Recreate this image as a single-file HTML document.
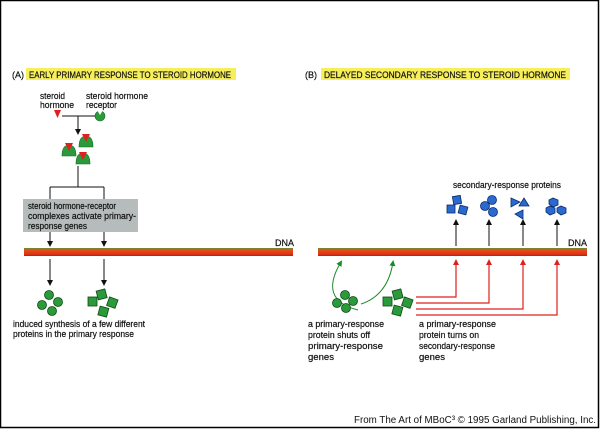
<!DOCTYPE html>
<html><head><meta charset="utf-8"><style>
html,body{margin:0;padding:0;background:#fff}
svg{display:block}
text{font-family:"Liberation Sans",sans-serif;font-size:9px;fill:#111;stroke:#111;stroke-width:0.2}
</style></head><body>
<svg width="600" height="429" viewBox="0 0 600 429">
<defs>
<marker id="ab" markerUnits="userSpaceOnUse" markerWidth="6" markerHeight="6" refX="4" refY="3" orient="auto"><path d="M0,0L6,3L0,6z" fill="#111"/></marker>
<marker id="ar" markerUnits="userSpaceOnUse" markerWidth="6" markerHeight="6" refX="4" refY="3" orient="auto"><path d="M0,0L6,3L0,6z" fill="#e0201a"/></marker>
<marker id="ag" markerUnits="userSpaceOnUse" markerWidth="6" markerHeight="6" refX="4" refY="3" orient="auto"><path d="M0,0L6,3L0,6z" fill="#1a8a2a"/></marker>
<linearGradient id="dna" x1="0" y1="0" x2="0" y2="1"><stop offset="0" stop-color="#4a9a3a"/><stop offset="0.2" stop-color="#e8501a"/><stop offset="0.8" stop-color="#e03010"/><stop offset="1" stop-color="#7a2a6a"/></linearGradient>
</defs>
<rect x="0.5" y="0.5" width="598" height="427" fill="#fff" stroke="#000" stroke-width="1.5"/>

<g>
<text x="12" y="78">(A)</text>
<rect x="26" y="68" width="210" height="12" fill="#f6ee5a"/>
<text x="29" y="78" textLength="202" lengthAdjust="spacingAndGlyphs">EARLY PRIMARY RESPONSE TO STEROID HORMONE</text>
<text x="40" y="99" textLength="25" lengthAdjust="spacingAndGlyphs">steroid</text>
<text x="40" y="108" textLength="34" lengthAdjust="spacingAndGlyphs">hormone</text>
<text x="86" y="99" textLength="62" lengthAdjust="spacingAndGlyphs">steroid hormone</text>
<text x="86" y="108" textLength="31" lengthAdjust="spacingAndGlyphs">receptor</text>
<path d="M54,110L61,110L57.5,118z" fill="#e02020"/>
<g><circle cx="100" cy="116" r="5" fill="#2a9a3a" stroke="#156a20" stroke-width="0.6"/><path d="M97,110L103,110L100,115z" fill="#fff"/></g>
<path d="M62,116H95" stroke="#111" fill="none"/>
<path d="M78,116V133" stroke="#111" fill="none" marker-end="url(#ab)"/>
<g fill="#2a9a3a" stroke="#156a20" stroke-width="0.6">
<path d="M62,156q0,-11 7,-11q7,0 7,11z"/><path d="M79,147q0,-11 7,-11q7,0 7,11z"/><path d="M76,164q0,-11 7,-11q7,0 7,11z"/>
</g>
<g fill="#e02020"><path d="M65,143h8l-4,8z"/><path d="M82,134h8l-4,8z"/><path d="M79,152h8l-4,8z"/></g>
<path d="M78,166V187M50,187H104M50,187V199M104,187V199" stroke="#111" fill="none"/>
<rect x="23" y="199" width="115" height="33" fill="#b6bcbc"/>
<text x="28" y="209" textLength="88" lengthAdjust="spacingAndGlyphs">steroid hormone-receptor</text>
<text x="28" y="219" textLength="108" lengthAdjust="spacingAndGlyphs">complexes activate primary-</text>
<text x="28" y="229" textLength="59" lengthAdjust="spacingAndGlyphs">response genes</text>
<path d="M50,232V245" stroke="#111" marker-end="url(#ab)"/>
<path d="M104,232V245" stroke="#111" marker-end="url(#ab)"/>
<rect x="24" y="248" width="269" height="8" fill="url(#dna)"/>
<text x="275" y="246">DNA</text>
<path d="M50,259V284" stroke="#111" marker-end="url(#ab)"/>
<path d="M104,259V284" stroke="#111" marker-end="url(#ab)"/>
<g fill="#2a9a3a" stroke="#0e4a14" stroke-width="0.8">
<circle cx="49" cy="295" r="4.5"/><circle cx="58" cy="302" r="4.5"/><circle cx="42" cy="305" r="4.5"/><circle cx="52" cy="311" r="4.5"/></g>
<g fill="#2a9a3a" stroke="#0e4a14" stroke-width="0.8">
<rect x="97" y="290" width="9" height="9" transform="rotate(-15 101 294)"/><rect x="108" y="298" width="9" height="9" transform="rotate(20 112 302)"/><rect x="88" y="297" width="9" height="9"/><rect x="99" y="307" width="9" height="9" transform="rotate(15 103 311)"/></g>
<text x="13" y="327" textLength="132" lengthAdjust="spacingAndGlyphs">induced synthesis of a few different</text>
<text x="13" y="337" textLength="121" lengthAdjust="spacingAndGlyphs">proteins in the primary response</text>
</g>

<g>
<text x="305" y="78">(B)</text>
<rect x="321" y="68" width="249" height="12" fill="#f6ee5a"/>
<text x="324" y="78" textLength="242" lengthAdjust="spacingAndGlyphs">DELAYED SECONDARY RESPONSE TO STEROID HORMONE</text>
<text x="453" y="188" textLength="108" lengthAdjust="spacingAndGlyphs">secondary-response proteins</text>
<g fill="#2a6ad0" stroke="#0a2a6a" stroke-width="0.8">
<rect x="453" y="196" width="8" height="8" transform="rotate(-10 457 200)"/><rect x="447" y="205" width="8" height="8"/><rect x="459" y="206" width="8" height="8" transform="rotate(15 463 210)"/>
<circle cx="492" cy="200" r="4.5"/><circle cx="485" cy="206" r="4.5"/><circle cx="493" cy="212" r="4.5"/>
<path d="M511,198L520,202L511,207z"/><path d="M524,198L529,206L519,206z"/><path d="M523,210L523,219L515,214z"/>
<polygon points="553,198 558,200 558,205 553,207 549,204 549,200"/><polygon points="550,206 555,208 555,213 550,215 546,212 546,208"/><polygon points="561,206 566,208 566,213 561,215 557,212 557,208"/>
</g>
<path d="M456,246V221" stroke="#111" marker-end="url(#ab)"/>
<path d="M489,246V221" stroke="#111" marker-end="url(#ab)"/>
<path d="M523,246V221" stroke="#111" marker-end="url(#ab)"/>
<path d="M557,246V221" stroke="#111" marker-end="url(#ab)"/>
<rect x="318" y="248" width="269" height="8" fill="url(#dna)"/>
<text x="568" y="246">DNA</text>
<path d="M358,310Q318,300 341,262" stroke="#1a8a2a" fill="none" stroke-width="1" marker-end="url(#ag)"/>
<path d="M361,304Q388,295 393,262" stroke="#1a8a2a" fill="none" stroke-width="1" marker-end="url(#ag)"/>
<g fill="#2a9a3a" stroke="#0e4a14" stroke-width="0.8">
<circle cx="345" cy="295" r="4.5"/><circle cx="353" cy="301" r="4.5"/><circle cx="337" cy="303" r="4.5"/><circle cx="346" cy="308" r="4.5"/></g>
<g fill="#2a9a3a" stroke="#0e4a14" stroke-width="0.8">
<rect x="393" y="290" width="9" height="9" transform="rotate(-15 397 294)"/><rect x="403" y="298" width="9" height="9" transform="rotate(20 407 302)"/><rect x="383" y="297" width="9" height="9"/><rect x="393" y="306" width="9" height="9" transform="rotate(15 397 310)"/></g>
<g stroke="#e0201a" fill="none" stroke-width="1.2">
<path d="M416,297H456V261" marker-end="url(#ar)"/><path d="M416,303H489V261" marker-end="url(#ar)"/><path d="M416,309H523V261" marker-end="url(#ar)"/><path d="M416,315H557V261" marker-end="url(#ar)"/>
</g>
<text x="308" y="327" textLength="76" lengthAdjust="spacingAndGlyphs">a primary-response</text>
<text x="308" y="338" textLength="62" lengthAdjust="spacingAndGlyphs">protein shuts off</text>
<text x="308" y="349" textLength="75" lengthAdjust="spacingAndGlyphs">primary-response</text>
<text x="308" y="360" textLength="26" lengthAdjust="spacingAndGlyphs">genes</text>
<text x="419" y="327" textLength="77" lengthAdjust="spacingAndGlyphs">a primary-response</text>
<text x="419" y="338" textLength="60" lengthAdjust="spacingAndGlyphs">protein turns on</text>
<text x="419" y="349" textLength="76" lengthAdjust="spacingAndGlyphs">secondary-response</text>
<text x="419" y="360" textLength="26" lengthAdjust="spacingAndGlyphs">genes</text>
</g>
<text x="354" y="423" textLength="242" lengthAdjust="spacingAndGlyphs" style="font-size:10px;stroke:none">From The Art of MBoC³ © 1995 Garland Publishing, Inc.</text>
</svg>
</body></html>
